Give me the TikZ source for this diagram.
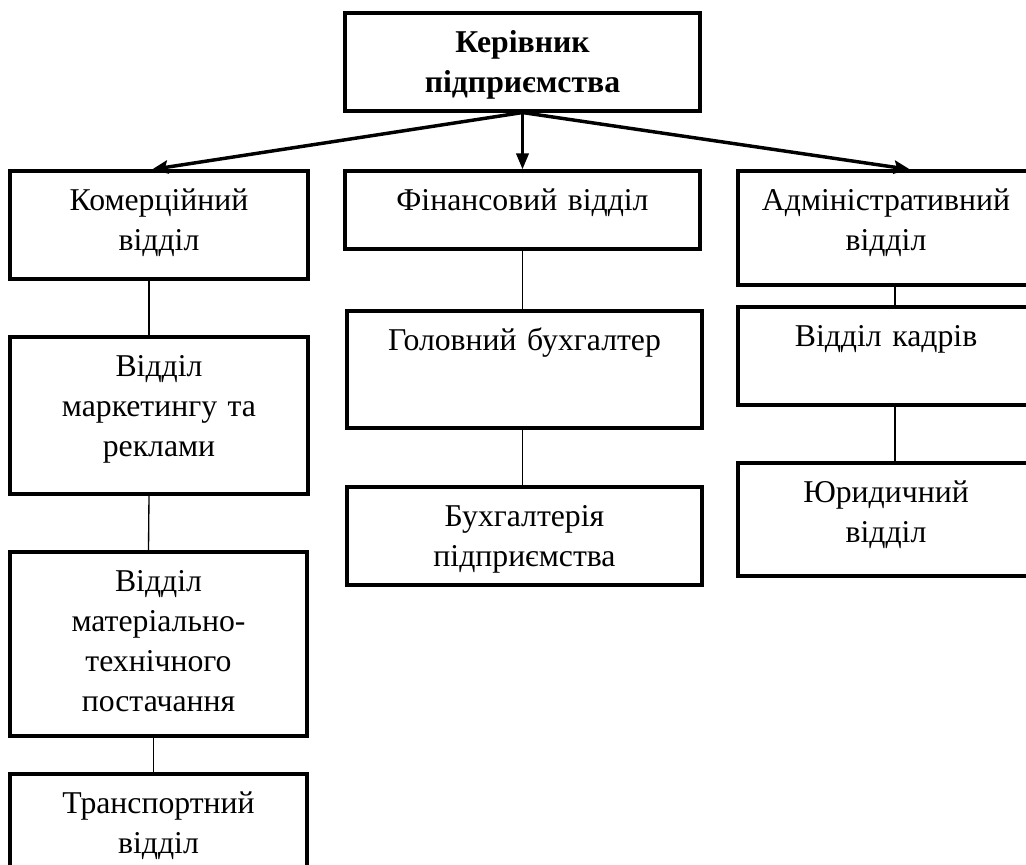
\documentclass[tikz,border=0pt]{standalone}
\usepackage{fontspec}
\setmainfont{Liberation Serif}
\usetikzlibrary{fit,calc,arrows.meta}
\newcommand{\dept}[4]{\node[box, fit={#2 #3}] (#1) {};
	\node[txt] (#1t) at ($(#1.north)+(0,41)$) {#4}}

\begin{document}
\begin{tikzpicture}[x=0.75pt, y=-0.75pt,
	box/.style={draw, line width=2.3pt, inner sep=0pt},
	txt/.style={anchor=base, text width=250pt, align=center, inner sep=0pt, font=\fontsize{23.8}{30}\selectfont},
	link/.style={line width=1pt},
	tiearrow/.style={line width=2.6pt, -{Stealth[length=12pt, width=10pt, inset=2pt]}}]
	\useasboundingbox (0,0) rectangle (1026,865);
	\clip (0,0) rectangle (1026,865);
	\dept{ker}{(345,13)}{(700,111)}{\textbf{Керівник}\\\textbf{підприємства}};
	\dept{kom}{(10,171)}{(308,279)}{Комерційний\\відділ};
	\dept{fin}{(345,171)}{(700,249)}{Фінансовий відділ};
	\dept{adm}{(738,171)}{(1034,285)}{Адміністративний\\відділ};
	\dept{mkt}{(10,337)}{(308,494)}{Відділ\\маркетингу та\\реклами};
	\dept{gol}{(347,311)}{(702,428)}{Головний бухгалтер};
	\dept{kad}{(738,307)}{(1034,405)}{Відділ кадрів};
	\dept{buh}{(347,487)}{(702,585)}{Бухгалтерія\\підприємства};
	\dept{yur}{(738,463)}{(1034,576)}{Юридичний\\відділ};
	\dept{mtp}{(10,552)}{(307,736)}{Відділ\\матеріально-\\технічного\\постачання};
	\dept{trn}{(10,774)}{(307,900)}{Транспортний\\відділ};
	\draw[tiearrow] (ker.south) -- ([xshift=-5.25pt]kom.north);
	\draw[tiearrow, -{Triangle[length=12pt, width=9pt]}] (ker.south) -- (ker.south |- fin.north);
	\draw[tiearrow] (ker.south) -- ([xshift=18pt]adm.north);
	\draw[link] ([xshift=-7.5pt]kom.south) -- ([xshift=-7.5pt]mkt.north);
	\draw[link] ([xshift=-7.5pt]mkt.south) -- ([xshift=-7.5pt]mtp.north);
	\draw[link] ([xshift=-3.75pt]mtp.south) -- ([xshift=-3.75pt]trn.north);
	\draw[link] (fin.south) -- (fin.south |- gol.north);
	\draw[link] (gol.south -| fin.south) -- (buh.north -| fin.south);
	\draw[link] ([xshift=6.75pt]adm.south) -- ([xshift=6.75pt]kad.north);
	\draw[link] ([xshift=6.75pt]kad.south) -- ([xshift=6.75pt]yur.north);
\end{tikzpicture}
\end{document}
